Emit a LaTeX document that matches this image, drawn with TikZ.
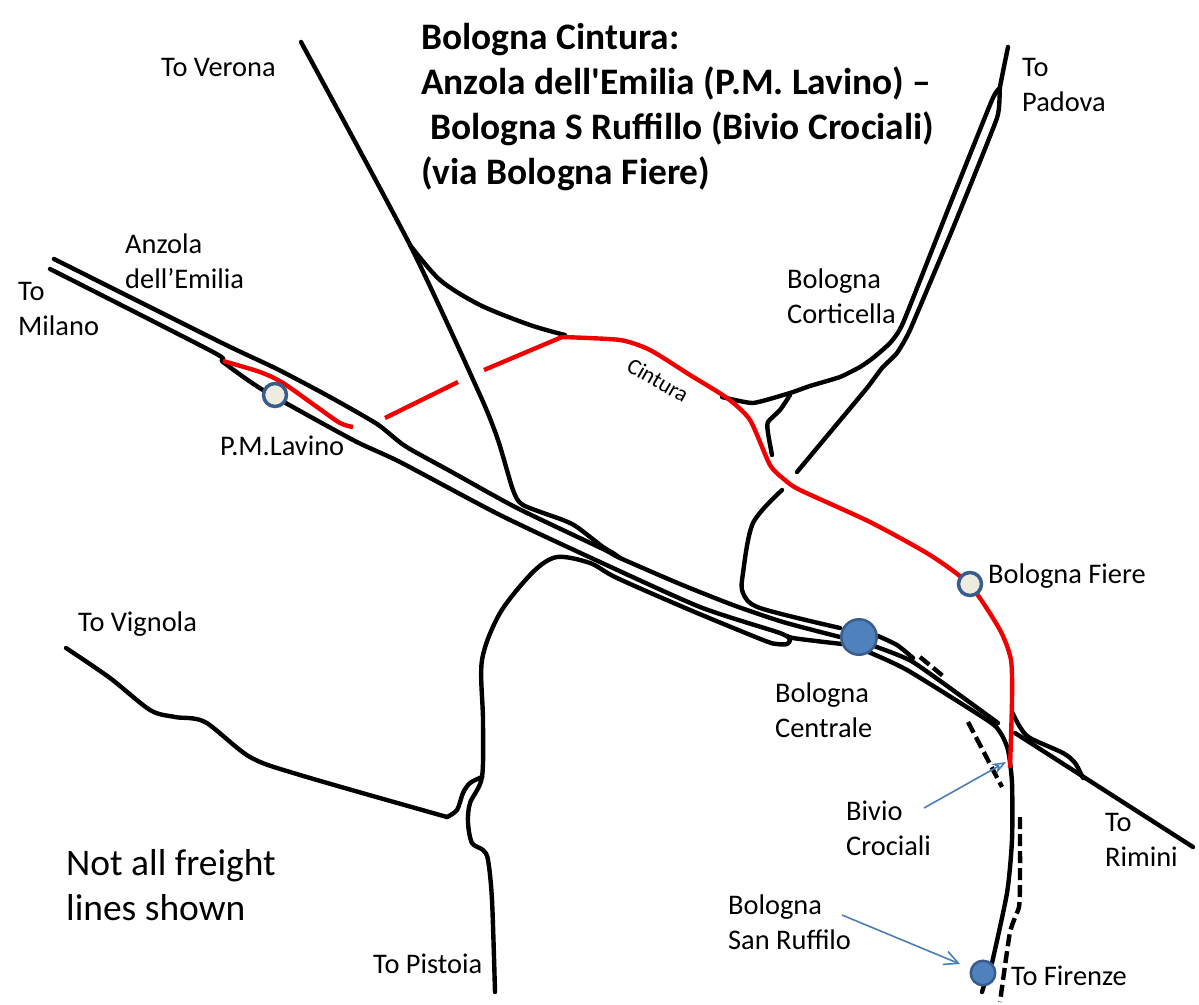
\documentclass[tikz,border=0pt]{standalone}
\usepackage{fontspec}
\setmainfont{Carlito}
\newfontfamily\plaincarlito{Carlito}
\usetikzlibrary{arrows.meta}
\definecolor{stroke}{RGB}{56,93,138}
\definecolor{bluefill}{RGB}{79,129,189}
\definecolor{creamfill}{RGB}{238,236,225}
\definecolor{railred}{RGB}{240,0,0}
\definecolor{pointblue}{RGB}{74,126,187}
\tikzset{
  rail/.style={draw=black,line width=4.4pt,line cap=round,line join=round},
  cintura/.style={draw=railred,line width=4.4pt,line join=round},
  dashrail/.style={draw=black,line width=4.4pt,dash pattern=on 12pt off 5pt},
  minorst/.style={circle,draw=stroke,line width=3.5pt,fill=creamfill,minimum size=23pt,inner sep=0pt},
  majorst/.style={circle,draw=stroke,line width=2.5pt,fill=bluefill,minimum size=35.5pt,inner sep=0pt},
  smallst/.style={circle,draw=stroke,line width=2.5pt,fill=bluefill,minimum size=24.5pt,inner sep=0pt},
  lab/.style={anchor=north west,inner sep=0pt,align=left,font=\fontsize{28.4}{35}\selectfont},
  ttl/.style={anchor=north west,inner sep=0pt,align=left,font=\plaincarlito\fontsize{37.4}{45}\selectfont\bfseries},
  big/.style={anchor=north west,inner sep=0pt,align=left,font=\fontsize{37.5}{45}\selectfont},
  pointer/.style={draw=pointblue,line width=1.6pt}
}
\begin{document}
\begin{tikzpicture}[x=1pt,y=-1pt]
\useasboundingbox (0,0) rectangle (1199,1004);
\fill[white] (0,0) rectangle (1199,1004);
% Milano main lines
\draw[rail] plot[smooth,tension=.4] coordinates {(54,259) (220,342) (277,369) (330,397) (377,424) (405,446) (450,471) (517,508) (603,549) (620,558) (680,584) (733,605) (783,622) (840,637)};
\draw[rail] plot[smooth,tension=.4] coordinates {(50,269) (213,352) (223,362) (263,390) (353,440) (400,462) (500,515) (600,562) (700,607) (777,632) (793,638) (842,644)};
% Verona
\draw[rail] plot[smooth,tension=.4] coordinates {(301,42) (410,245) (480,395) (498,440) (513,490) (523,505) (563,520) (577,527) (603,547) (613,553) (620,558)};
\draw[rail] plot[smooth,tension=.5] coordinates {(410,245) (440,280) (480,305) (530,325) (565,335)};
% Padova
\draw[rail] plot[smooth,tension=.25] coordinates {(1008,47) (1000,87) (997,118) (953,228) (910,330) (897,353) (882,368) (867,388) (832,430) (797,472)};
\draw[rail] plot[smooth,tension=.3] coordinates {(1000,88) (992,100) (947,212) (903,323) (890,343) (873,358) (860,367) (840,377) (810,386) (790,393) (753,403) (722,397)};
\draw[rail] plot[smooth,tension=.4] coordinates {(790,395) (780,410) (768,422) (768,433) (772,455)};
% Curve to Centrale
\draw[rail] plot[smooth,tension=.5] coordinates {(782,490) (753,523) (743,573) (743,593) (760,608) (840,628)};
% Pistoia and loop
\draw[rail] plot[smooth,tension=.5] coordinates {(495,992) (492,900) (488,860) (483,850) (472,843) (468,823) (470,803) (482,777) (483,720) (482,660) (500,613) (533,572) (557,557) (590,563) (617,578) (690,610) (763,640) (777,644) (787,644) (790,640) (787,636)};
% Vignola
\draw[rail] plot[smooth,tension=.5] coordinates {(66,648) (110,678) (150,710) (175,717) (205,722) (250,757) (300,775) (447,817)};
\draw[rail] plot[smooth,tension=.5] coordinates {(447,817) (457,810) (463,793) (470,783) (482,777)};
% East of Centrale
\draw[rail] plot[smooth,tension=.4] coordinates {(878,636) (897,645) (913,658)};
\draw[rail] plot[smooth,tension=.3] coordinates {(868,644) (913,662) (998,723)};
\draw[rail] plot[smooth,tension=.4] coordinates {(866,651) (907,670) (987,720) (1000,732) (1008,750) (1012,783) (1012,840) (1007,893) (992,963)};
\draw[dashrail] (920,657) -- (943,676);
\draw[dashrail] (968,722) -- (1002,787);
\draw[dashrail] plot[smooth,tension=.3] coordinates {(1020,817) (1020,880) (1019,907) (1010,932) (1000,1002)};
\draw[rail] (985,982) -- (982,992);
% Rimini
\draw[rail] (1015,733) -- (1193,847);
\draw[rail] plot[smooth,tension=.5] coordinates {(1012,712) (1020,727) (1030,738) (1063,753) (1075,763) (1083,778)};
% Red
\draw[cintura] plot[smooth,tension=.5] coordinates {(223,361) (260,372) (283,383) (317,407) (340,423) (353,427)};
\draw[cintura] (385,418) -- (458,382);
\draw[cintura] (484,370) -- (562,337);
\draw[cintura] plot[smooth,tension=.4] coordinates {(562,337) (620,340) (650,350) (690,375) (727,398) (750,420) (770,465) (785,480) (800,490) (870,522) (930,555) (970,585) (1000,630) (1011,660) (1012,700) (1010,768)};
% Stations
\node[minorst] (lavino) at (275,395) {};
\node[minorst] (fiere) at (970,584) {};
\node[majorst] (centrale) at (859,637) {};
\node[smallst] (ruffilo) at (983,973) {};
% Arrows
\coordinate (bivfrom) at (924,808);
\coordinate (bivto) at (1006,762);
\coordinate (rufffrom) at (842,915);
\coordinate (ruffto) at (960,964);
\draw[pointer,-{Stealth[open,length=14pt,width=11pt]}] (bivfrom) -- (bivto);
\draw[pointer,-{Straight Barb[length=14pt,width=14pt]}] (rufffrom) -- (ruffto);
% Labels
\node[ttl] (title) at (421,23) {Bologna Cintura:\\Anzola dell'Emilia (P.M. Lavino) –\\\hspace*{9pt}Bologna S Ruffillo (Bivio Crociali)\\(via Bologna Fiere)};
\node[lab] (verona) at (161,58) {To Verona};
\node[lab] (padova) at (1022,58) {To\\Padova};
\node[lab] (anzola) at (125,234) {Anzola\\dell’Emilia};
\node[lab] (milano) at (18,282) {To\\Milano};
\node[lab] (corticella) at (787,269) {Bologna\\Corticella};
\node[lab] (lavinolab) at (220,436) {P.M.Lavino};
\node[lab] (fierelab) at (988,564) {Bologna Fiere};
\node[lab] (vignola) at (78,612) {To Vignola};
\node[lab] (centralelab) at (775,683) {Bologna\\Centrale};
\node[lab] (bivio) at (846,801) {Bivio\\Crociali};
\node[lab] (rimini) at (1105,813) {To\\Rimini};
\node[lab] (ruffilolab) at (728,895) {Bologna\\San Ruffilo};
\node[lab] (firenze) at (1011,966) {To Firenze};
\node[lab] (pistoia) at (373,954) {To Pistoia};
\node[big] (freight) at (66,849) {Not all freight\\lines shown};
\node[rotate=-30,font=\fontsize{22.6}{26}\selectfont,inner sep=0pt] (cinturalab) at (658,380) {Cintura};
\end{tikzpicture}
\end{document}
